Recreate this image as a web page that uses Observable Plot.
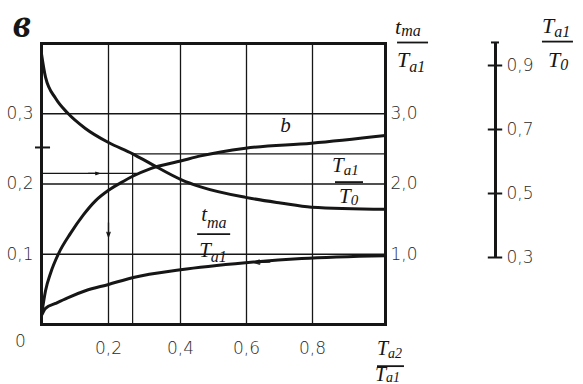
<!DOCTYPE html>
<html><head><meta charset="utf-8">
<script src="https://cdn.jsdelivr.net/npm/d3@7"></script>
<script src="https://cdn.jsdelivr.net/npm/@observablehq/plot@0.6"></script>
<style>
body{margin:0;background:#fff;}
#wrap{position:relative;width:583px;height:384px;overflow:hidden;background:#fff;}
#wrap svg{position:absolute;left:0;top:0;}
</style></head><body><div id="wrap"></div>
<script>
// ---- data ----
const xGrid = [0.2, 0.4, 0.6, 0.8];
const xTickLabels = ["0,2", "0,4", "0,6", "0,8"];
const yGrid = [0.1, 0.2, 0.3];
const yTickLabels = ["0,1", "0,2", "0,3"];
const rightTickLabels = ["1,0", "2,0", "3,0"];
const nomoTicks = [0.3, 0.5, 0.7, 0.9];
const nomoTickLabels = ["0,3", "0,5", "0,7", "0,9"];

// T_a1/T_0 curve (left-axis units)
const ratioX = [0, 0.012, 0.042, 0.078, 0.131, 0.2, 0.267, 0.317, 0.403, 0.461, 0.597, 0.703, 0.797, 1.0];
const ratioY = [0.385, 0.352, 0.322, 0.301, 0.279, 0.259, 0.243, 0.229, 0.206, 0.196, 0.181, 0.173, 0.167, 0.164];
// curve b (left-axis units)
const bX = [0, 0.012, 0.027, 0.051, 0.087, 0.125, 0.161, 0.2, 0.242, 0.267, 0.317, 0.403, 0.461, 0.597, 0.797, 1.0];
const bY = [0.013, 0.048, 0.073, 0.101, 0.130, 0.156, 0.176, 0.191, 0.204, 0.211, 0.222, 0.233, 0.240, 0.251, 0.258, 0.269];
// t_ma/T_a1 curve (right-axis units)
const tmaX = [0, 0.012, 0.042, 0.078, 0.131, 0.2, 0.269, 0.4, 0.597, 0.767, 1.0];
const tmaY = [0.13, 0.23, 0.30, 0.38, 0.48, 0.57, 0.67, 0.78, 0.88, 0.94, 0.98];

// construction (read-off) lines
const startLevel = 0.215, startEnd = 0.28;
const readU = 0.267, readLevel = 0.243;
const markLevel = 0.252;

const ratio = ratioX.map((x, i) => ({x, y: ratioY[i]}));
const curveB = bX.map((x, i) => ({x, y: bY[i]}));
const tma = tmaX.map((x, i) => ({x, y: tmaY[i] / 10}));

const ink = "#161616";
const lab = (arr, vals) => d => arr[vals.indexOf(d)];
const tickFont = {fontSize: "17px", fontFamily: "'DejaVu Sans', sans-serif", fontWeight: 200, color: "#2a2a2a"};

const plot = Plot.plot({
  width: 583, height: 384,
  marginLeft: 41, marginRight: 198, marginTop: 43, marginBottom: 60,
  x: {type: "linear", domain: [0, 0.2, 0.4, 0.6, 0.8, 1], range: [41, 108, 180, 246, 312, 385]},
  y: {domain: [0, 0.4], range: [324, 43]},
  style: {...tickFont, background: "#fff"},
  marks: [
    Plot.ruleX(xGrid, {stroke: ink, strokeWidth: 1.3}),
    Plot.ruleY(yGrid, {stroke: ink, strokeWidth: 1.3}),
    Plot.ruleY([startLevel], {x1: 0, x2: startEnd, stroke: ink, strokeWidth: 1.2}),
    Plot.ruleX([readU], {y1: 0, y2: readLevel, stroke: ink, strokeWidth: 1.2}),
    Plot.ruleY([readLevel], {x1: readU, x2: 1, stroke: ink, strokeWidth: 1.2}),
    Plot.ruleY([markLevel], {x1: -0.018, x2: 0.027, stroke: ink, strokeWidth: 2}),
    Plot.line(ratio, {x: "x", y: "y", curve: "monotone-x", stroke: ink, strokeWidth: 3}),
    Plot.line(curveB, {x: "x", y: "y", curve: "monotone-x", stroke: ink, strokeWidth: 3}),
    Plot.line(tma, {x: "x", y: "y", curve: "monotone-x", stroke: ink, strokeWidth: 3}),
    Plot.arrow([0], {x1: 0.14, x2: 0.172, y1: startLevel, y2: startLevel, stroke: ink, strokeWidth: 1.3, headLength: 9, headAngle: 40}),
    Plot.arrow([0], {x1: 0.2, x2: 0.2, y1: 0.145, y2: 0.125, stroke: ink, strokeWidth: 1.3, headLength: 9, headAngle: 40}),
    Plot.arrow([0], {x1: 0.67, x2: 0.625, y1: 0.0895, y2: 0.0885, stroke: ink, strokeWidth: 2, headLength: 8, headAngle: 40}),
    Plot.frame({stroke: ink, strokeWidth: 3}),
    Plot.axisX(xGrid, {anchor: "bottom", tickSize: 0, tickPadding: 17, tickFormat: lab(xTickLabels, xGrid), label: null}),
    Plot.axisY(yGrid, {anchor: "left", tickSize: 0, tickPadding: 8, tickFormat: lab(yTickLabels, yGrid), label: null}),
    Plot.axisY(yGrid, {anchor: "right", tickSize: 0, tickPadding: 5, tickFormat: lab(rightTickLabels, yGrid), label: null}),
    Plot.text(["0"], {x: 0, y: 0, dx: -21, dy: 17, fill: "#2a2a2a"}),
    Plot.text(["b"], {x: 0.718, y: 0.283, fontStyle: "italic", fontWeight: "normal", fontFamily: "'Liberation Serif', serif", fontSize: 21, fill: ink})
  ]
});

const nomo = Plot.plot({
  width: 583, height: 384,
  marginLeft: 487, marginRight: 80, marginTop: 0, marginBottom: 0,
  x: {domain: [0, 1], axis: null},
  y: {domain: [0.3, 0.9], range: [257, 65]},
  style: {...tickFont, background: "transparent"},
  marks: [
    Plot.ruleX([0.5], {y1: 0.3, y2: 0.972, stroke: ink, strokeWidth: 3}),
    Plot.ruleY(nomoTicks, {x1: 0.05, x2: 0.95, stroke: ink, strokeWidth: 2}),
    Plot.ruleY([0.972], {x1: 0.25, x2: 0.75, stroke: ink, strokeWidth: 2}),
    Plot.axisY(nomoTicks, {anchor: "right", tickSize: 0, tickPadding: 3, tickFormat: lab(nomoTickLabels, nomoTicks), label: null})
  ]
});

const wrap = document.getElementById("wrap");
wrap.appendChild(plot);
wrap.appendChild(nomo);

// fraction labels (italic serif with subscripts)
const sx = plot.scale("x"), sy = plot.scale("y");
function frac(u, v, f) {
  const px = sx.apply(u), py = sy.apply(v);
  const g = d3.select(plot).append("g").attr("text-anchor", "start").attr("font-weight", "normal")
    .attr("font-family", "'Liberation Serif', serif").attr("font-style", "italic").attr("fill", ink);
  const n = g.append("text").attr("x", px + f.nx).attr("y", py + f.ny).attr("font-size", f.size || 22).text(f.num);
  n.append("tspan").attr("font-size", f.sub || 16).attr("dy", f.nsdy).text(f.numSub);
  g.append("line").attr("x1", px).attr("x2", px + f.w).attr("y1", py).attr("y2", py)
    .attr("stroke", ink).attr("stroke-width", 1.8);
  const d = g.append("text").attr("x", px + f.dx).attr("y", py + f.dy).attr("font-size", f.size || 22).text(f.den);
  d.append("tspan").attr("font-size", f.sub || 16).attr("dy", f.dsdy).text(f.denSub);
}
// on-curve labels
frac(0.863, 0.202, {num: "T", numSub: "a1", den: "T", denSub: "0", w: 28, nx: -3, ny: -10, nsdy: 3, dx: 4, dy: 21, dsdy: 2, size: 21, sub: 15});
frac(0.452, 0.128, {num: "t", numSub: "ma", den: "T", denSub: "a1", w: 33, nx: 4, ny: -13, nsdy: 7, dx: 2, dy: 23, dsdy: 5, size: 21, sub: 16});
// right-axis title
frac(1.033, 0.4007, {num: "t", numSub: "ma", den: "T", denSub: "a1", w: 31, nx: -2, ny: -9, nsdy: 2, dx: 0, dy: 24, dsdy: 5, size: 22, sub: 16});
// nomogram title
frac(1.43, 0.402, {num: "T", numSub: "a1", den: "T", denSub: "0", w: 31, nx: 0, ny: -9, nsdy: 4, dx: 6, dy: 25, dsdy: 3, size: 22, sub: 16});
// x-axis title
frac(0.978, -0.06, {num: "T", numSub: "a2", den: "T", denSub: "a1", w: 27, nx: 0, ny: -11, nsdy: 3, dx: -2, dy: 15, dsdy: 1, size: 20, sub: 14});

// panel letter
d3.select(plot).append("text").attr("x", 13).attr("y", 37).attr("text-anchor", "start")
  .attr("font-family", "'Liberation Serif', serif").attr("font-style", "italic").attr("font-weight", "bold")
  .attr("font-size", 40).attr("fill", ink).text("в");
</script></body></html>
